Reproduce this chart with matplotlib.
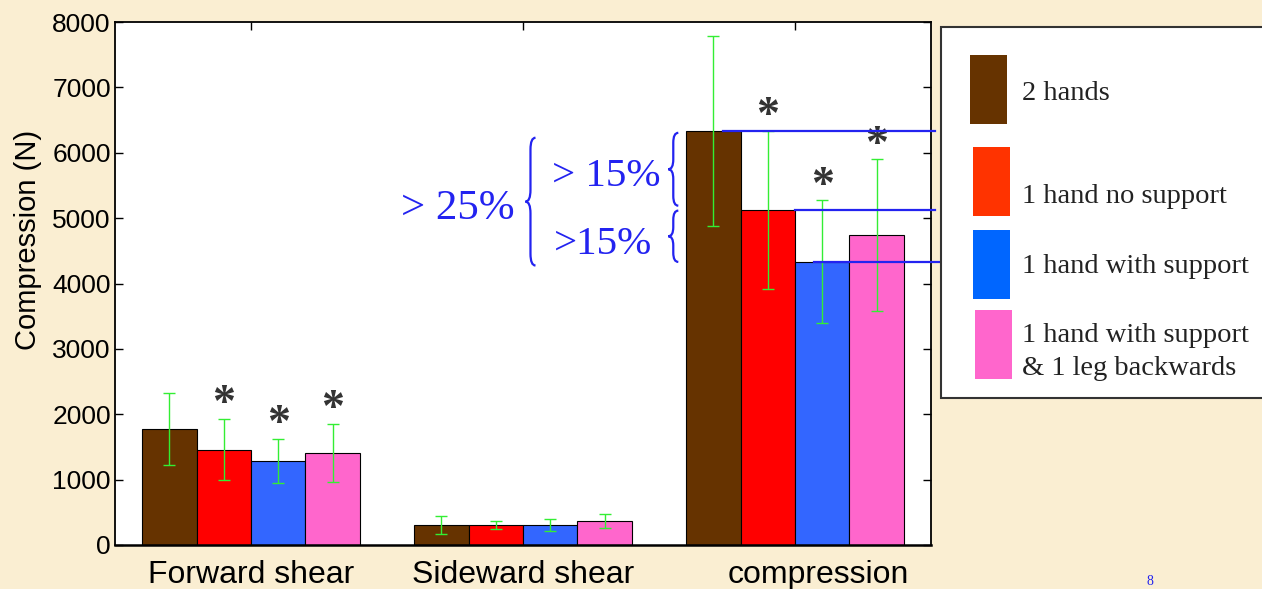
import matplotlib
matplotlib.use('Agg')
import matplotlib.pyplot as plt
import numpy as np
from matplotlib.patches import PathPatch, Rectangle
from matplotlib.path import Path
from matplotlib.transforms import ScaledTranslation

# data
categories = ['Forward shear', 'Sideward shear', 'compression']
conditions = ['2 hands', '1 hand no support', '1 hand with support',
              '1 hand with support\n& 1 leg backwards']

two_hands = [1770, 305, 6330]
two_hands_sd = [550, 140, 1450]
one_hand = [1460, 305, 5130]
one_hand_sd = [470, 58, 1210]
one_hand_support = [1285, 305, 4330]
one_hand_support_sd = [335, 95, 940]
support_leg_back = [1405, 365, 4740]
support_leg_back_sd = [445, 107, 1160]

# asterisk = significant difference from 2 hands
signif = [[False, False, False],
          [True, False, True],
          [True, False, True],
          [True, False, True]]

bar_colors = ['#663300', '#ff0000', '#3366ff', '#ff66cc']
legend_colors = ['#663300', '#ff3300', '#0066ff', '#ff66cc']
bg = '#faeed2'
annot_blue = '#2323f0'

SANS = 'Liberation Sans'
SERIF = 'Liberation Serif'
W, H = 1262, 589


def brace(ax, x, y0, y1, w, r, color):
    # left curly brace "{" with its tip at x
    ym = (y0 + y1) / 2
    xm = x + w / 2
    verts = [(x + w, y1), (xm, y1), (xm, y1 - r),
             (xm, ym + r), (xm, ym), (x, ym),
             (xm, ym), (xm, ym - r),
             (xm, y0 + r), (xm, y0), (x + w, y0)]
    codes = [Path.MOVETO, Path.CURVE3, Path.CURVE3, Path.LINETO,
             Path.CURVE3, Path.CURVE3, Path.CURVE3, Path.CURVE3,
             Path.LINETO, Path.CURVE3, Path.CURVE3]
    ax.add_patch(PathPatch(Path(verts, codes), fill=False, edgecolor=color,
                           lw=1.6, clip_on=False, zorder=5))


def fx(px):
    return px / W


def fy(py):
    return 1 - py / H


fig = plt.figure(figsize=(W / 100, H / 100), dpi=100, facecolor=bg)
ax = fig.add_axes([fx(115), 44 / H, 816 / W, 523 / H])

means = [two_hands, one_hand, one_hand_support, support_leg_back]
sds = [two_hands_sd, one_hand_sd, one_hand_support_sd, support_leg_back_sd]
x = np.arange(1, len(categories) + 1)
width = 0.2

for i in range(len(means)):
    pos = x + (i - 1.5) * width
    ax.bar(pos, means[i], width, color=bar_colors[i], edgecolor='black',
           linewidth=0.8, zorder=2)
    ax.errorbar(pos, means[i], yerr=sds[i], fmt='none', ecolor='#33ee33',
                elinewidth=1, capsize=4.5, capthick=1, zorder=3)
    for j in range(len(categories)):
        if signif[i][j]:
            ax.text(pos[j], means[i][j] + sds[i][j] + 40, '*', ha='center',
                    va='baseline', fontsize=33, family=SERIF,
                    weight='bold', color='#333333', zorder=4)

ax.set_xlim(0.5, 3.5)
ax.set_ylim(0, 8000)
ax.set_yticks(range(0, 8001, 1000))
ax.set_xticks(x)
ax.set_xticklabels(categories, family=SANS, fontsize=23)
for lab in ax.get_yticklabels():
    lab.set_family(SANS)
    lab.set_fontsize(19)
ax.tick_params(axis='y', direction='in', length=6, width=1, left=True,
               right=True, pad=3)
ax.tick_params(axis='x', direction='in', length=6, width=1, bottom=False,
               top=True, pad=10.5)
# compression label sits a bit to the right on the slide
lab3 = ax.get_xticklabels()[2]
lab3.set_transform(lab3.get_transform()
                   + ScaledTranslation(23 / 100, 0, fig.dpi_scale_trans))

ax.set_ylabel('Compression (N)', family=SANS, fontsize=21)
ax.yaxis.set_label_coords(-0.09, 0.583)
for s in ax.spines.values():
    s.set_linewidth(1.3)
ax.spines['bottom'].set_linewidth(1.8)

# comparison lines at the compression bar tops
ax.plot([2.736, 3.514], [two_hands[2]] * 2, color=annot_blue, lw=1.6,
        clip_on=False, zorder=5)
ax.plot([3.0, 3.514], [one_hand[2]] * 2, color=annot_blue, lw=1.6,
        clip_on=False, zorder=5)
ax.plot([3.07, 3.54], [one_hand_support[2]] * 2, color=annot_blue, lw=1.6,
        clip_on=False, zorder=5)

brace(ax, 2.009, one_hand_support[2] - 55, two_hands[2] - 100, 0.037, 180,
      annot_blue)
brace(ax, 2.534, one_hand[2] + 60, two_hands[2] - 25, 0.037, 150, annot_blue)
brace(ax, 2.534, one_hand_support[2], one_hand[2] - 15, 0.037, 140,
      annot_blue)

ax.text(1.55, 4992, '> 25%', family=SERIF, fontsize=31, color=annot_blue,
        ha='left', va='baseline')
ax.text(2.105, 5496, '> 15%', family=SERIF, fontsize=29.5, color=annot_blue,
        ha='left', va='baseline')
ax.text(2.112, 4458, '>15%', family=SERIF, fontsize=29.5, color=annot_blue,
        ha='left', va='baseline')

# legend box, laid out like the slide (drawn in figure pixels)
fig.add_artist(Rectangle((fx(941), fy(398)), (W + 20 - 941) / W, 371 / H,
                         transform=fig.transFigure, facecolor='white',
                         edgecolor='#333333', lw=1.5, zorder=1))
patch_top = [55, 147, 230, 310]
patch_left = [970, 973, 973, 975]
text_base = [100, 203, 273, 342]
for k, label in enumerate(conditions):
    fig.add_artist(Rectangle((fx(patch_left[k]), fy(patch_top[k] + 69)),
                             37 / W, 69 / H, transform=fig.transFigure,
                             facecolor=legend_colors[k], edgecolor='none',
                             zorder=2))
    for n, line in enumerate(label.split('\n')):
        fig.text(fx(1022), fy(text_base[k] + 33 * n), line, family=SERIF,
                 fontsize=20.5, color='#222222', ha='left', va='baseline',
                 zorder=3)

fig.text(fx(1150), 1 / H, '8', color='#2222ee', fontsize=10,
         family=SERIF, ha='center', va='bottom')

fig.savefig('out.png', dpi=100, facecolor=bg)
